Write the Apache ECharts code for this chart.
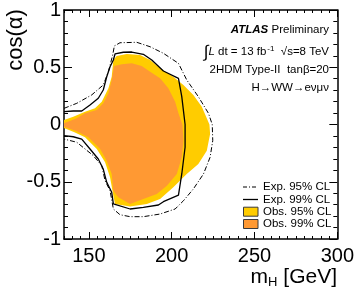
<!DOCTYPE html>
<html>
<head>
<meta charset="utf-8">
<script src="https://cdn.jsdelivr.net/npm/echarts@6/dist/echarts.min.js"></script>
<style>html,body{margin:0;padding:0;background:#fff;}#c{width:357px;height:297px;}</style>
</head>
<body>
<div id="c"></div>
<script>
// ---- data (m_H [GeV], cos(alpha)) ----
const xMajorTicks = [150, 200, 250, 300];
const obs95 = [[135,0.039],[140.6,0.068],[147.7,0.112],[153.7,0.141],[157.8,0.199],[161.8,0.316],[163.8,0.417],[164.8,0.563],[166.8,0.598],[172.9,0.616],[180.9,0.607],[187.0,0.563],[193.0,0.491],[201.0,0.417],[207.1,0.345],[213.1,0.258],[218.2,0.155],[221.2,0.054],[222.8,0.0],[223.2,-0.083],[221.2,-0.229],[216.1,-0.345],[209.1,-0.432],[201.0,-0.548],[193.0,-0.651],[185.0,-0.694],[174.9,-0.716],[165.8,-0.694],[164.8,-0.622],[162.8,-0.461],[159.8,-0.330],[154.8,-0.214],[147.7,-0.112],[141.3,-0.068],[135,-0.031]];
const obs99 = [[135,0.010],[142.7,0.054],[147.7,0.098],[154.8,0.127],[158.7,0.185],[161.8,0.272],[163.8,0.389],[165.2,0.511],[169.9,0.526],[175.9,0.534],[181.9,0.511],[187.0,0.461],[193.0,0.403],[198.0,0.316],[202.1,0.199],[204.1,0.098],[206.5,0.0],[207.1,-0.141],[206.1,-0.286],[203.1,-0.432],[197.1,-0.534],[191.0,-0.607],[182.9,-0.651],[174.9,-0.694],[167.8,-0.636],[164.8,-0.578],[163.8,-0.432],[160.8,-0.316],[156.8,-0.214],[149.7,-0.112],[142.7,-0.059],[135,-0.019]];
const exp95 = [[135,0.141],[142.7,0.185],[151.7,0.258],[158.7,0.345],[161.8,0.461],[164.4,0.607],[165.4,0.686],[168.8,0.714],[178.9,0.718],[187.0,0.679],[195.0,0.622],[204.1,0.534],[209.1,0.389],[216.1,0.243],[222.2,0.098],[224.5,0.0],[224.8,-0.141],[223.2,-0.286],[219.2,-0.432],[213.1,-0.563],[207.1,-0.666],[202.1,-0.738],[193.0,-0.782],[182.9,-0.805],[174.9,-0.805],[168.8,-0.788],[164.8,-0.738],[162.8,-0.578],[159.8,-0.491],[157.8,-0.360],[152.7,-0.272],[142.7,-0.155],[135,-0.127]];
const exp99 = [[135,0.112],[140.6,0.118],[145.7,0.118],[150.7,0.170],[155.7,0.229],[158.7,0.301],[160.8,0.417],[162.8,0.505],[164.8,0.563],[165.8,0.616],[170.8,0.631],[175.9,0.633],[182.9,0.613],[188.0,0.563],[195.0,0.467],[204.1,0.403],[206.1,0.243],[208.1,0.0],[208.1,-0.199],[206.1,-0.432],[204.1,-0.616],[195.0,-0.674],[192.0,-0.703],[182.9,-0.723],[174.9,-0.738],[164.8,-0.694],[163.8,-0.592],[160.8,-0.505],[158.7,-0.389],[155.7,-0.301],[150.7,-0.214],[145.7,-0.127],[140.6,-0.107],[135,-0.098]];

const FONT = '"Liberation Sans", Arial, Helvetica, sans-serif';
const YELLOW = '#FFCC00', ORANGE = '#FF9933';

function polySeries(pts, color) {
  return {
    type: 'custom', silent: true, z: 1,
    data: [[150, 0]],
    encode: {x: 0, y: 1},
    renderItem: function (params, api) {
      return {type: 'polygon', shape: {points: pts.map(p => api.coord(p))}, style: {fill: color, stroke: null}};
    }
  };
}
function lineSeries(pts, dash, width) {
  return {
    type: 'line', data: pts, showSymbol: false, symbol: 'none', silent: true, z: 3,
    animation: false,
    lineStyle: {color: '#000', width: width, type: dash}
  };
}

const axisLine = {show: true, onZero: false, lineStyle: {color: '#000', width: 1.5}};
function xAxisDef(pos, major, labels) {
  return {
    type: 'value', position: pos, min: 135, max: 300, interval: 5,
    axisLine: major ? {show: false, onZero: false} : axisLine,
    splitLine: {show: false},
    axisTick: major
      ? {show: true, inside: true, length: 7, customValues: xMajorTicks, lineStyle: {color: '#000', width: 1}}
      : {show: true, inside: true, length: 3, lineStyle: {color: '#000', width: 1}},
    axisLabel: labels
      ? {show: true, color: '#000', fontFamily: FONT, fontSize: 20, margin: 7,
         formatter: v => (xMajorTicks.indexOf(v) >= 0 ? String(v) : '')}
      : {show: false}
  };
}
function yAxisDef(pos, labels) {
  return {
    type: 'value', position: pos, min: -1, max: 1, interval: 0.5,
    axisLine: axisLine, splitLine: {show: false},
    axisTick: {show: true, inside: true, length: 8, lineStyle: {color: '#000', width: 1}},
    minorTick: {show: true, splitNumber: 5, length: 4, lineStyle: {color: '#000', width: 1}},
    minorSplitLine: {show: false},
    axisLabel: labels ? {show: true, color: '#000', fontFamily: FONT, fontSize: 20, margin: 3} : {show: false}
  };
}

const legendItems = [
  {y: 187, label: 'Exp. 95% CL', kind: 'dashdot'},
  {y: 199.5, label: 'Exp. 99% CL', kind: 'solid'},
  {y: 211.7, label: 'Obs. 95% CL', kind: 'box', color: YELLOW},
  {y: 224, label: 'Obs. 99% CL', kind: 'box', color: ORANGE}
];
const graphics = [];
legendItems.forEach(it => {
  if (it.kind === 'box') {
    graphics.push({type: 'rect', shape: {x: 243.5, y: it.y - 4.5, width: 14.5, height: 9},
      style: {fill: it.color, stroke: '#3a3a3a', lineWidth: 1}});
  } else {
    graphics.push({type: 'line', shape: {x1: 243, y1: it.y, x2: 258, y2: it.y},
      style: {stroke: '#000', lineWidth: it.kind === 'solid' ? 1.3 : 1, lineDash: it.kind === 'solid' ? null : [4, 2, 1, 2]}});
  }
  graphics.push({type: 'text', x: 263, y: it.y,
    style: {text: it.label, fill: '#000', font: '11.5px ' + FONT, textAlign: 'left', textVerticalAlign: 'middle'}});
});
// annotations
graphics.push({type: 'text', x: 329, y: 29.5,
  style: {text: '{b|ATLAS} Preliminary', fill: '#000', font: '11.5px ' + FONT, textAlign: 'right', textVerticalAlign: 'middle',
    rich: {b: {fontWeight: 'bold', fontStyle: 'italic', fontSize: 11.5, fontFamily: FONT}}}});
graphics.push({type: 'text', x: 329, y: 52,
  style: {text: '{i|\u222B}{l|L} dt = 13 fb{s|-1}  \u221As=8 TeV', fill: '#000', font: '11.5px ' + FONT, textAlign: 'right', textVerticalAlign: 'middle',
    rich: {i: {fontSize: 17, fontFamily: FONT}, l: {fontStyle: 'italic', fontSize: 11.5, fontFamily: FONT},
           s: {fontSize: 8, fontFamily: FONT, padding: [0, 0, 7, 1]}}}});
graphics.push({type: 'text', x: 329, y: 70,
  style: {text: '2HDM Type-II  tan\u03B2=20', fill: '#000', font: '11.5px ' + FONT, textAlign: 'right', textVerticalAlign: 'middle'}});
graphics.push({type: 'text', x: 329, y: 87.5,
  style: {text: 'H\u2192WW\u2192e\u03BD\u03BC\u03BD', fill: '#000', font: '11.5px ' + FONT, textAlign: 'right', textVerticalAlign: 'middle'}});
// axis titles
graphics.push({type: 'text', x: 337, y: 277,
  style: {text: 'm{s|H} [GeV]', fill: '#000', font: '21px ' + FONT, textAlign: 'right', textVerticalAlign: 'middle',
    rich: {s: {fontSize: 13, fontFamily: FONT, padding: [10, 0, 0, 0]}}}});
graphics.push({type: 'text', x: 16, y: 40, rotation: Math.PI / 2,
  style: {text: 'cos(\u03B1)', fill: '#000', font: '22px ' + FONT, textAlign: 'center', textVerticalAlign: 'middle'}});

const chart = echarts.init(document.getElementById('c'), null, {renderer: 'canvas'});
chart.setOption({
  animation: false,
  backgroundColor: '#fff',
  grid: {left: 64, top: 10, right: 19.5, bottom: 58, containLabel: false},
  xAxis: [xAxisDef('bottom', false, true), xAxisDef('bottom', true, false), xAxisDef('top', false, false), xAxisDef('top', true, false)],
  yAxis: [yAxisDef('left', true), yAxisDef('right', false)],
  series: [polySeries(obs95, YELLOW), polySeries(obs99, ORANGE), lineSeries(exp95, [5, 2, 1, 2], 1), lineSeries(exp99, 'solid', 1.3)],
  graphic: graphics
});
</script>
</body>
</html>
